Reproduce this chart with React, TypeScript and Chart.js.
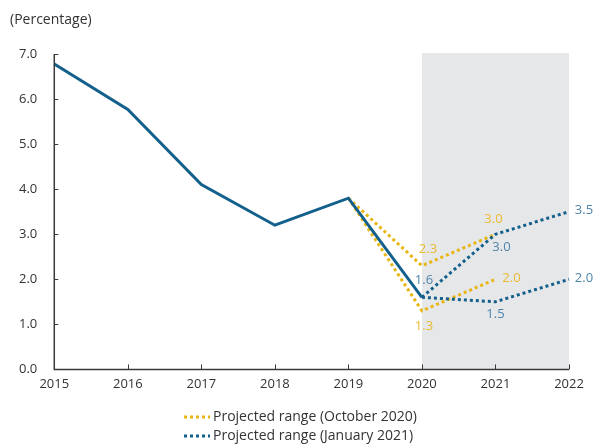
import React, { useEffect, useRef } from "react";
import { Chart, registerables } from "chart.js";
Chart.register(...registerables);

const years = ["2015", "2016", "2017", "2018", "2019", "2020", "2021", "2022"];
const historical = [6.78, 5.77, 4.1, 3.2, 3.8, 1.6, null, null];
const octHigh = [null, null, null, null, 3.8, 2.3, 3.0, null];
const octLow = [null, null, null, null, 3.8, 1.3, 2.0, null];
const janHigh = [null, null, null, null, null, 1.6, 3.0, 3.5];
const janLow = [null, null, null, null, null, 1.6, 1.5, 2.0];
const yTicks = [0, 1, 2, 3, 4, 5, 6, 7];
const legendLabels = ["Projected range (October 2020)", "Projected range (January 2021)"];
const unitLabel = "(Percentage)";

const YELLOW = "#e8b511";
const BLUE = "#14608c";
const BLUE_LABEL = "#4d85aa";
const YELLOW_LABEL = "#ebba30";
const FONT = "'Open Sans', 'Noto Sans', sans-serif";

// value labels: dataset index, point index, offset style
const valueLabels = [
  { ds: 1, i: 5, dx: 6, dy: -16, color: YELLOW_LABEL },
  { ds: 2, i: 5, dx: 2, dy: 15, color: YELLOW_LABEL },
  { ds: 3, i: 5, dx: 2, dy: -17, color: BLUE_LABEL },
  { ds: 1, i: 6, dx: -2, dy: -15, color: YELLOW_LABEL },
  { ds: 3, i: 6, dx: 6, dy: 13, color: BLUE_LABEL },
  { ds: 2, i: 6, dx: 16, dy: -1, color: YELLOW_LABEL },
  { ds: 4, i: 6, dx: 0, dy: 12, color: BLUE_LABEL },
  { ds: 3, i: 7, dx: 15, dy: -1, color: BLUE_LABEL },
  { ds: 4, i: 7, dx: 15, dy: -1, color: BLUE_LABEL },
];

const decorPlugin = {
  id: "decor",
  beforeDatasetsDraw(chart: any) {
    const { ctx, chartArea, scales } = chart;
    const x1 = scales.x.getPixelForValue(5);
    const x2 = scales.x.getPixelForValue(7);
    ctx.save();
    ctx.fillStyle = "#e6e7e9";
    ctx.fillRect(x1, chartArea.top - 1, x2 - x1, chartArea.bottom - chartArea.top + 1);
    ctx.restore();
  },
  afterDatasetsDraw(chart: any) {
    const { ctx, chartArea, scales } = chart;
    ctx.save();
    // axes
    ctx.strokeStyle = "#3a3a3a";
    ctx.lineWidth = 1.5;
    ctx.beginPath();
    ctx.moveTo(chartArea.left, chartArea.top);
    ctx.lineTo(chartArea.left, chartArea.bottom);
    ctx.lineTo(chartArea.right, chartArea.bottom);
    ctx.stroke();
    ctx.lineWidth = 1;
    ctx.beginPath();
    yTicks.forEach((v) => {
      const y = Math.round(scales.y.getPixelForValue(v)) + 0.5;
      ctx.moveTo(chartArea.left, y);
      ctx.lineTo(chartArea.left + 4, y);
    });
    years.forEach((_, i) => {
      const x = Math.round(scales.x.getPixelForValue(i)) + 0.5;
      ctx.moveTo(x, chartArea.bottom);
      ctx.lineTo(x, chartArea.bottom - 5);
    });
    ctx.stroke();
    // value labels
    ctx.font = `13px ${FONT}`;
    ctx.textAlign = "center";
    ctx.textBaseline = "middle";
    valueLabels.forEach((l) => {
      const meta = chart.getDatasetMeta(l.ds);
      const pt = meta.data[l.i];
      const v = chart.data.datasets[l.ds].data[l.i];
      ctx.fillStyle = l.color;
      ctx.fillText(Number(v).toFixed(1), pt.x + l.dx, pt.y + l.dy);
    });
    // unit label
    ctx.fillStyle = "#333";
    ctx.textAlign = "left";
    ctx.font = `14px ${FONT}`;
    ctx.fillText(unitLabel, 10, 20);
    // legend
    ctx.font = `14px ${FONT}`;
    const colors = [YELLOW, BLUE];
    legendLabels.forEach((t, k) => {
      const y = 417 + k * 19;
      ctx.strokeStyle = colors[k];
      ctx.lineWidth = 3;
      ctx.setLineDash([3, 3]);
      ctx.beginPath();
      ctx.moveTo(184, y);
      ctx.lineTo(210, y);
      ctx.stroke();
      ctx.setLineDash([]);
      ctx.fillStyle = "#333";
      ctx.fillText(t, 213, y);
    });
    ctx.restore();
  },
};

export default function App() {
  const ref = useRef<HTMLCanvasElement>(null);
  useEffect(() => {
    document.body.style.margin = "0";
    const dotted = (data: any, color: string) => ({
      data,
      borderColor: color,
      borderWidth: 3,
      borderDash: [3, 3],
      pointRadius: 0,
      fill: false,
      spanGaps: false,
    });
    const chart = new Chart(ref.current!, {
      type: "line",
      data: {
        labels: years,
        datasets: [
          { data: historical, borderColor: BLUE, borderWidth: 3, pointRadius: 0, fill: false, order: 0 },
          { ...dotted(octHigh, YELLOW), order: 2 },
          { ...dotted(octLow, YELLOW), order: 2 },
          { ...dotted(janHigh, BLUE), order: 1 },
          { ...dotted(janLow, BLUE), order: 1 },
        ] as any,
      },
      options: {
        animation: false,
        responsive: false,
        layout: { padding: { left: 2, right: 26, top: 54, bottom: 45 } },
        plugins: { legend: { display: false }, tooltip: { enabled: false } },
        scales: {
          x: {
            offset: false,
            grid: { display: false, drawTicks: false },
            border: { display: false },
            ticks: { color: "#333", font: { family: FONT, size: 13 }, padding: 7, maxRotation: 0 },
          },
          y: {
            min: 0,
            max: 7,
            grid: { display: false, drawTicks: false },
            border: { display: false },
            ticks: {
              stepSize: 1,
              color: "#333",
              font: { family: FONT, size: 13 },
              padding: 17,
              callback: (v: any) => Number(v).toFixed(1),
            },
          },
        },
      },
      plugins: [decorPlugin],
    });
    return () => chart.destroy();
  }, []);
  return (
    <div style={{ width: 595, height: 444 }}>
      <canvas ref={ref} width={595} height={444} />
    </div>
  );
}
